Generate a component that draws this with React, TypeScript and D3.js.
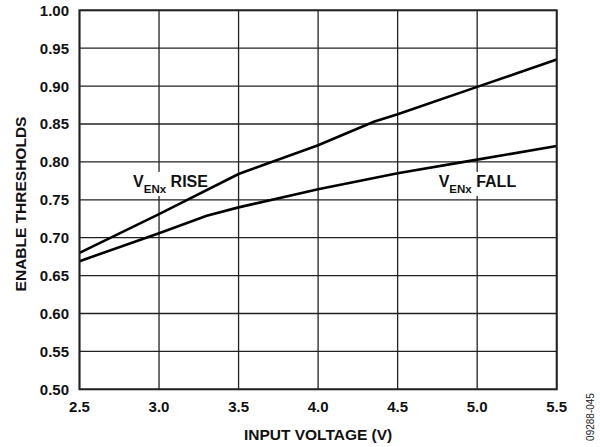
import React from "react";
import * as d3 from "d3";

const xTicks = [2.5, 3.0, 3.5, 4.0, 4.5, 5.0, 5.5];
const yTicks = [0.5, 0.55, 0.6, 0.65, 0.7, 0.75, 0.8, 0.85, 0.9, 0.95, 1.0];

const riseV = [2.5, 3.0, 3.5, 4.0, 4.35, 4.5, 5.0, 5.25, 5.5];
const riseT = [0.68, 0.731, 0.784, 0.822, 0.853, 0.863, 0.899, 0.917, 0.935];

const fallV = [2.5, 3.0, 3.3, 3.5, 4.0, 4.5, 5.0, 5.5];
const fallT = [0.669, 0.706, 0.729, 0.74, 0.764, 0.785, 0.803, 0.821];

const W = 600;
const H = 447;
const FONT = "'Liberation Sans', Arial, Helvetica, sans-serif";

export default function App() {
  const x = d3.scaleLinear().domain([2.5, 5.5]).range([79.5, 556.7]);
  const y = d3.scaleLinear().domain([0.5, 1.0]).range([389.3, 10.3]);
  const line = d3
    .line<[number, number]>()
    .x((d) => x(d[0]))
    .y((d) => y(d[1]));
  const rise = riseV.map((v, i) => [v, riseT[i]] as [number, number]);
  const fall = fallV.map((v, i) => [v, fallT[i]] as [number, number]);

  const [x0, x1] = x.range();
  const [y0, y1] = y.range();

  const label = (vx: number, vy: number, word: string, w: number) => {
    const lx = x(vx);
    const ly = y(vy);
    return (
      <g>
        <rect x={lx - 3} y={ly - 15} width={w} height={24} fill="#fff" />
        <text x={lx} y={ly} fontFamily={FONT} fontWeight="bold" fontSize={16} fill="#111">
          V
          <tspan fontSize={11.5} dy={6}>ENx</tspan>
          <tspan dy={-6}>{" " + word}</tspan>
        </text>
      </g>
    );
  };

  return (
    <svg
      width={W}
      height={H}
      style={{ position: "absolute", left: 0, top: 0, background: "#fff" }}
    >
      {yTicks.map((t) => (
        <line key={"gy" + t} x1={x0} x2={x1} y1={y(t)} y2={y(t)} stroke="#222" strokeWidth={1.3} />
      ))}
      {xTicks.map((t) => (
        <line key={"gx" + t} x1={x(t)} x2={x(t)} y1={y0} y2={y1} stroke="#222" strokeWidth={1.3} />
      ))}
      {label(2.837, 0.767, "RISE", 84)}
      {label(4.758, 0.767, "FALL", 84)}
      <path d={line(rise) || ""} fill="none" stroke="#000" strokeWidth={2.6} />
      <path d={line(fall) || ""} fill="none" stroke="#000" strokeWidth={2.6} />
      <rect x={x0} y={y1} width={x1 - x0} height={y0 - y1} fill="none" stroke="#222" strokeWidth={2} />
      {yTicks.map((t) => (
        <text
          key={"ty" + t}
          x={69}
          y={y(t)}
          dy="0.36em"
          textAnchor="end"
          fontFamily={FONT}
          fontWeight="bold"
          fontSize={15}
          fill="#111"
        >
          {t.toFixed(2)}
        </text>
      ))}
      {xTicks.map((t) => (
        <text
          key={"tx" + t}
          x={x(t)}
          y={411.5}
          textAnchor="middle"
          fontFamily={FONT}
          fontWeight="bold"
          fontSize={15}
          fill="#111"
        >
          {t.toFixed(1)}
        </text>
      ))}
      <text
        x={(x0 + x1) / 2}
        y={440}
        textAnchor="middle"
        fontFamily={FONT}
        fontWeight="bold"
        fontSize={15.5}
        fill="#111"
      >
        INPUT VOLTAGE (V)
      </text>
      <text
        transform={`translate(26,204) rotate(-90)`}
        textAnchor="middle"
        fontFamily={FONT}
        fontWeight="bold"
        fontSize={15.5}
        fill="#111"
      >
        ENABLE THRESHOLDS
      </text>
      <text
        transform={`translate(594,417) rotate(-90)`}
        textAnchor="middle"
        fontFamily={FONT}
        fontSize={10}
        fill="#222"
      >
        09288-045
      </text>
    </svg>
  );
}
